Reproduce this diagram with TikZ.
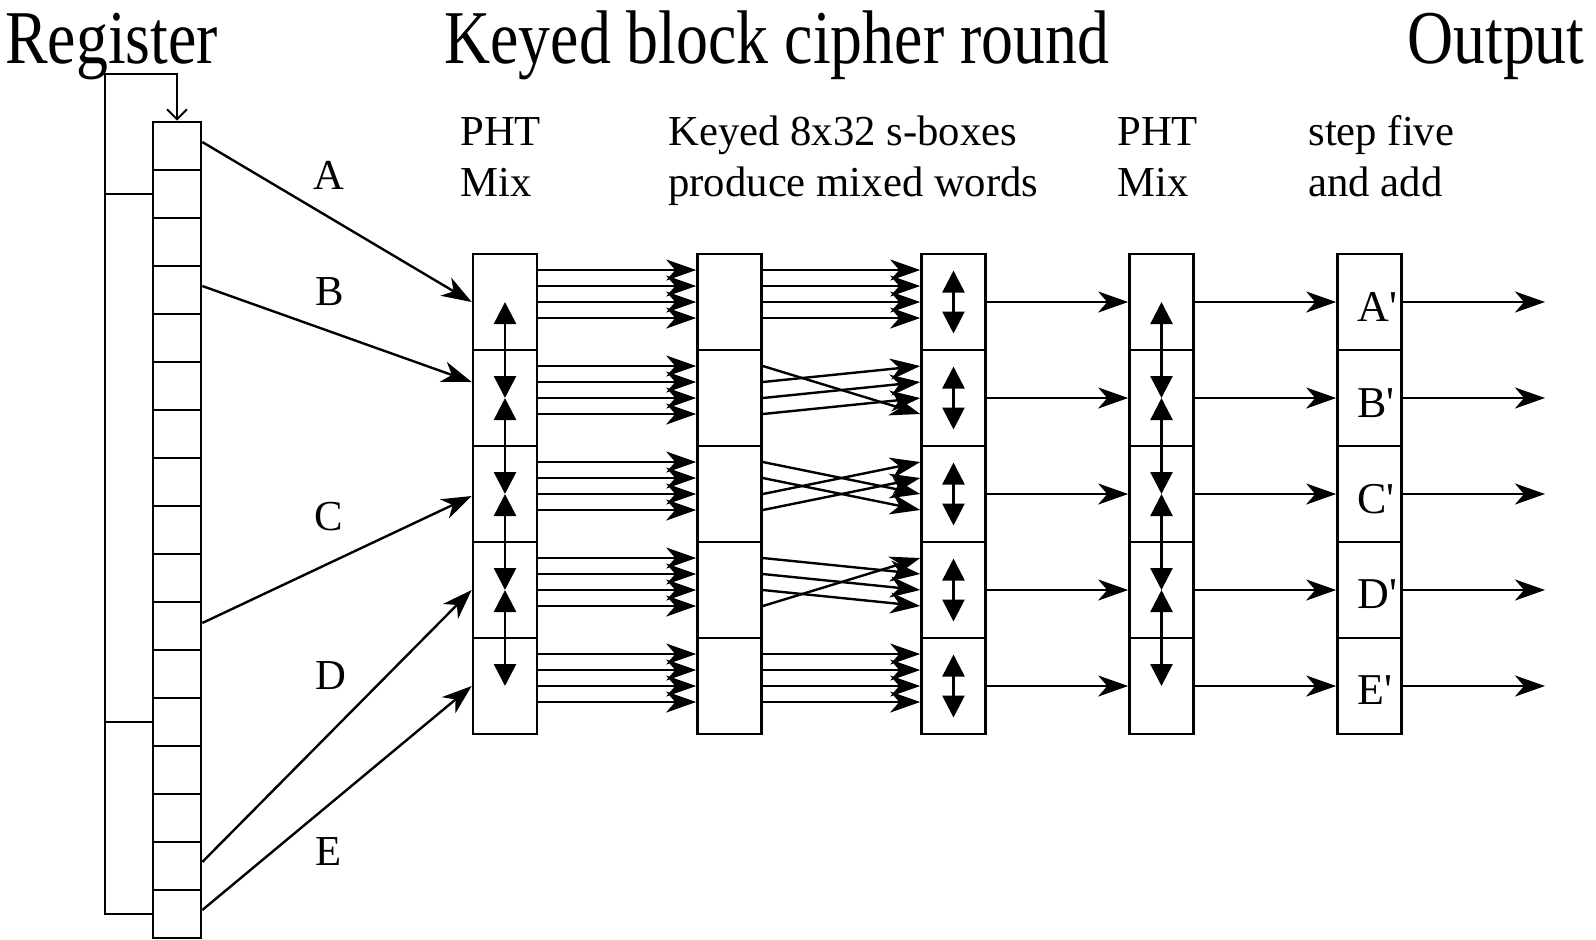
\documentclass[tikz,border=0pt]{standalone}
\usepackage{fontspec}
\setmainfont{Liberation Serif}[Ligatures=TeXOff]
\usetikzlibrary{arrows.meta,calc}
\newcommand\ttlfont[1]{\scalebox{0.84}[1]{\fontsize{38pt}{40pt}\selectfont #1}}
\begin{document}
\begin{tikzpicture}[x=0.5pt,y=-0.5pt,
  reg/.style={draw, line width=1.3pt, minimum width=24pt, minimum height=24pt, inner sep=0pt},
  cell/.style={draw, line width=1.3pt, minimum width=32pt, minimum height=48pt, inner sep=0pt},
  wire/.style={line width=1.2pt, -{Stealth[length=15pt,width=10.5pt,inset=4.5pt]}},
  dbl/.style={line width=1.3pt, {Triangle[length=11pt,width=11pt]}-{Triangle[length=11pt,width=11pt]}},
  fb/.style={line width=1pt},
  sub/.style={font=\fontsize{21.35pt}{25pt}\selectfont, inner sep=0pt, anchor=base west},
  lbl/.style={font=\fontsize{21.35pt}{25pt}\selectfont, inner sep=0pt, anchor=base},
  olbl/.style={font=\fontsize{22pt}{26pt}\selectfont, inner sep=0pt, anchor=base west},
  ttl/.style={inner sep=0pt},
]
\useasboundingbox (0,0) rectangle (1596,939);

% titles
\node[ttl, anchor=base west] (treg) at (5,63) {\ttlfont{Register}};
\node[ttl, anchor=base west] (tkey) at (444,63) {\ttlfont{Keyed block cipher round}};
\node[ttl, anchor=base east] (tout) at (1585,63) {\ttlfont{Output}};

% column headings
\node[sub] (h1a) at (460,145) {PHT};
\node[sub] (h1b) at (460,196) {Mix};
\node[sub] (h2a) at (668,145) {Keyed 8x32 s-boxes};
\node[sub] (h2b) at (668,196) {produce mixed words};
\node[sub] (h3a) at (1117,145) {PHT};
\node[sub] (h3b) at (1117,196) {Mix};
\node[sub] (h4a) at (1308,145) {step five};
\node[sub] (h4b) at (1308,196) {and add};

% register
\foreach \i in {1,...,17} \node[reg] (r\i) at (177,{146+48*(\i-1)}) {};

% columns
\foreach \k in {1,...,5} {
  \node[cell] (p\k) at (505,{302+96*(\k-1)}) {};
  \node[cell] (s\k) at (729.5,{302+96*(\k-1)}) {};
  \node[cell] (x\k) at (953.5,{302+96*(\k-1)}) {};
  \node[cell] (q\k) at (1161.5,{302+96*(\k-1)}) {};
  \node[cell] (o\k) at (1369.5,{302+96*(\k-1)}) {};
  \coordinate (e\k) at (1545,{302+96*(\k-1)});
}

% output labels
\node[olbl] (la2) at (1357,321) {A'};
\node[olbl] (lb2) at (1357,417) {B'};
\node[olbl] (lc2) at (1357,513) {C'};
\node[olbl] (ld2) at (1357,608) {D'};
\node[olbl] (le2) at (1357,704) {E'};

% 4-wire bundles
\foreach \k in {1,...,5} \foreach \j in {1,...,4} {
  \pgfmathtruncatemacro\t{mod(\j-\k+8,4)+1}
  \draw[wire] ($(p\k.east)+(0,{16*\j-48})$) -- ($(s\k.west)+(0,{16*\j-48})$);
  \draw[wire] ($(s\k.east)+(0,{16*\j-48})$) -- ($(x\k.west)+(0,{16*\t-48})$);
}

% single arrows and in-box arrows
\foreach \k in {1,...,5} {
  \draw[wire] (x\k.east) -- (q\k.west);
  \draw[wire] (q\k.east) -- (o\k.west);
  \draw[wire] (o\k.east) -- (e\k);
  \draw[dbl] ($(x\k.center)+(0,-31.5)$) -- ($(x\k.center)+(0,31.5)$);
}
\foreach \k/\n in {1/2,2/3,3/4,4/5} {
  \draw[dbl] (p\k.center) -- (p\n.center);
  \draw[dbl] (q\k.center) -- (q\n.center);
}

% register to PHT
\draw[wire] ($(r1.east)+(0,-4)$) -- (p1.west);
\draw[wire] ($(r4.east)+(0,-4)$) -- ($(p2.west)+(0,-16)$);
\draw[wire] ($(r11.east)+(0,-3)$) -- ($(p3.west)+(0,2)$);
\draw[wire] ($(r16.east)+(0,-4)$) -- (p4.west);
\draw[wire] ($(r17.east)+(0,-4)$) -- (p5.west);

\node[lbl] (la) at (329,189) {A};
\node[lbl] (lb) at (330,305) {B};
\node[lbl] (lc) at (329,530) {C};
\node[lbl] (ld) at (331,689) {D};
\node[lbl] (le) at (329,865) {E};

% feedback loop
\coordinate (lp) at (105,74);
\draw[fb, -{Straight Barb[length=5pt,width=10pt]}] (r17.west) -| (lp) -| (r1.north);
\draw[fb] (r2.west) -- (r2.west -| lp);
\draw[fb] (r13.west) -- (r13.west -| lp);
\end{tikzpicture}
\end{document}
